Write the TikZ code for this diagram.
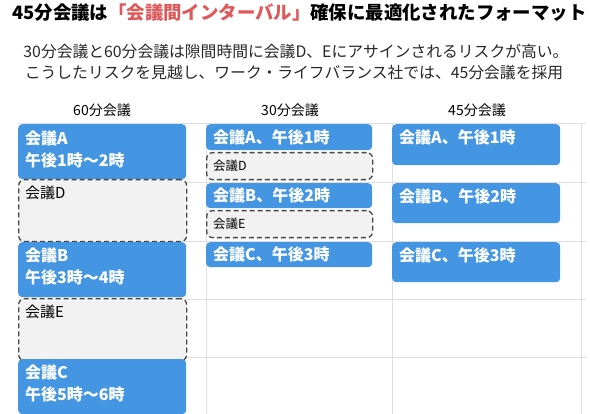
\documentclass[tikz,border=0pt]{standalone}
\usepackage{fontspec}
\setmainfont{Noto Sans CJK JP}
\definecolor{mtgblue}{RGB}{69,150,226}
\definecolor{titlered}{RGB}{222,90,90}
\definecolor{gridgray}{RGB}{222,222,222}
\definecolor{sparefill}{RGB}{242,242,242}
\definecolor{spareline}{RGB}{70,70,70}
\definecolor{subgray}{RGB}{40,40,40}
\begin{document}
\begin{tikzpicture}[x=1pt,y=-1pt,
  every node/.style={inner sep=0pt},
  gridline/.style={draw=gridgray,line width=1pt},
  meeting/.style={fill=mtgblue,rounded corners=4pt,anchor=north west},
  spare/.style={draw=spareline,fill=sparefill,line width=1.3pt,dash pattern=on 5pt off 3pt,rounded corners=6pt,anchor=north west},
  mtext/.style={anchor=west,text=white,align=left,font=\bfseries\fontsize{16}{22}\selectfont},
  sparetext/.style={anchor=west,font=\fontsize{15}{17}\selectfont},
  smalltext/.style={anchor=west,font=\fontsize{12.5}{14}\selectfont},
  colhead/.style={font=\fontsize{14}{16}\selectfont}]

  \useasboundingbox (0,0) rectangle (590,414);

  \node[anchor=west,font=\bfseries\fontsize{18.4}{22}\selectfont] (title) at (12,13)
    {45分会議は\textcolor{titlered}{「会議間インターバル」}確保に最適化されたフォーマット};
  \node[text=subgray,font=\fontsize{15.8}{19}\selectfont] (sub1) at (296,52)
    {30分会議と60分会議は隙間時間に会議D、Eにアサインされるリスクが高い。};
  \node[text=subgray,font=\fontsize{15.8}{19}\selectfont] (sub2) at (294,73)
    {こうしたリスクを見越し、ワーク・ライフバランス社では、45分会議を採用};

  \node[colhead] (h60) at (102,110) {60分会議};
  \node[colhead] (h30) at (290,110) {30分会議};
  \node[colhead] (h45) at (477,110) {45分会議};

  \foreach \y in {124,183,242,300,358}
    \draw[gridline] (18,\y) -- (586,\y);
  \foreach \x in {206,392,581}
    \draw[gridline] (\x,124) -- (\x,414);

  \node[meeting,minimum width=168pt,minimum height=55pt] (m60a) at (18,124) {};
  \node[spare,minimum width=168pt,minimum height=62pt] (m60d) at (18,179) {};
  \node[meeting,minimum width=168pt,minimum height=55pt] (m60b) at (18,242) {};
  \node[spare,minimum width=168pt,minimum height=62pt] (m60e) at (18,298) {};
  \node[meeting,minimum width=168pt,minimum height=55pt] (m60c) at (18,359) {};

  \node[mtext] (t60a) at ([shift={(7,25)}]m60a.north west) {会議A\\午後1時〜2時};
  \node[sparetext] (t60d) at ([shift={(7,14)}]m60d.north west) {会議D};
  \node[mtext] (t60b) at ([shift={(7,24)}]m60b.north west) {会議B\\午後3時〜4時};
  \node[sparetext] (t60e) at ([shift={(7,14)}]m60e.north west) {会議E};
  \node[mtext] (t60c) at ([shift={(7,24)}]m60c.north west) {会議C\\午後5時〜6時};

  \node[meeting,minimum width=166pt,minimum height=26pt] (m30a) at (206,124) {};
  \node[spare,minimum width=166pt,minimum height=27pt] (m30d) at (206,152) {};
  \node[meeting,minimum width=166pt,minimum height=25pt] (m30b) at (206,183) {};
  \node[spare,minimum width=166pt,minimum height=27pt] (m30e) at (206,210) {};
  \node[meeting,minimum width=166pt,minimum height=25pt] (m30c) at (206,242) {};

  \node[mtext] (t30a) at ([xshift=7pt]m30a.west) {会議A、午後1時};
  \node[smalltext] (t30d) at ([xshift=7pt]m30d.west) {会議D};
  \node[mtext] (t30b) at ([xshift=7pt]m30b.west) {会議B、午後2時};
  \node[smalltext] (t30e) at ([xshift=7pt]m30e.west) {会議E};
  \node[mtext] (t30c) at ([xshift=7pt]m30c.west) {会議C、午後3時};

  \node[meeting,minimum width=168pt,minimum height=41pt] (m45a) at (392,124) {};
  \node[meeting,minimum width=168pt,minimum height=40pt] (m45b) at (392,183) {};
  \node[meeting,minimum width=168pt,minimum height=40pt] (m45c) at (392,242) {};

  \node[mtext] (t45a) at ([shift={(7,13.5)}]m45a.north west) {会議A、午後1時};
  \node[mtext] (t45b) at ([shift={(7,13.5)}]m45b.north west) {会議B、午後2時};
  \node[mtext] (t45c) at ([shift={(7,13.5)}]m45c.north west) {会議C、午後3時};

\end{tikzpicture}
\end{document}
